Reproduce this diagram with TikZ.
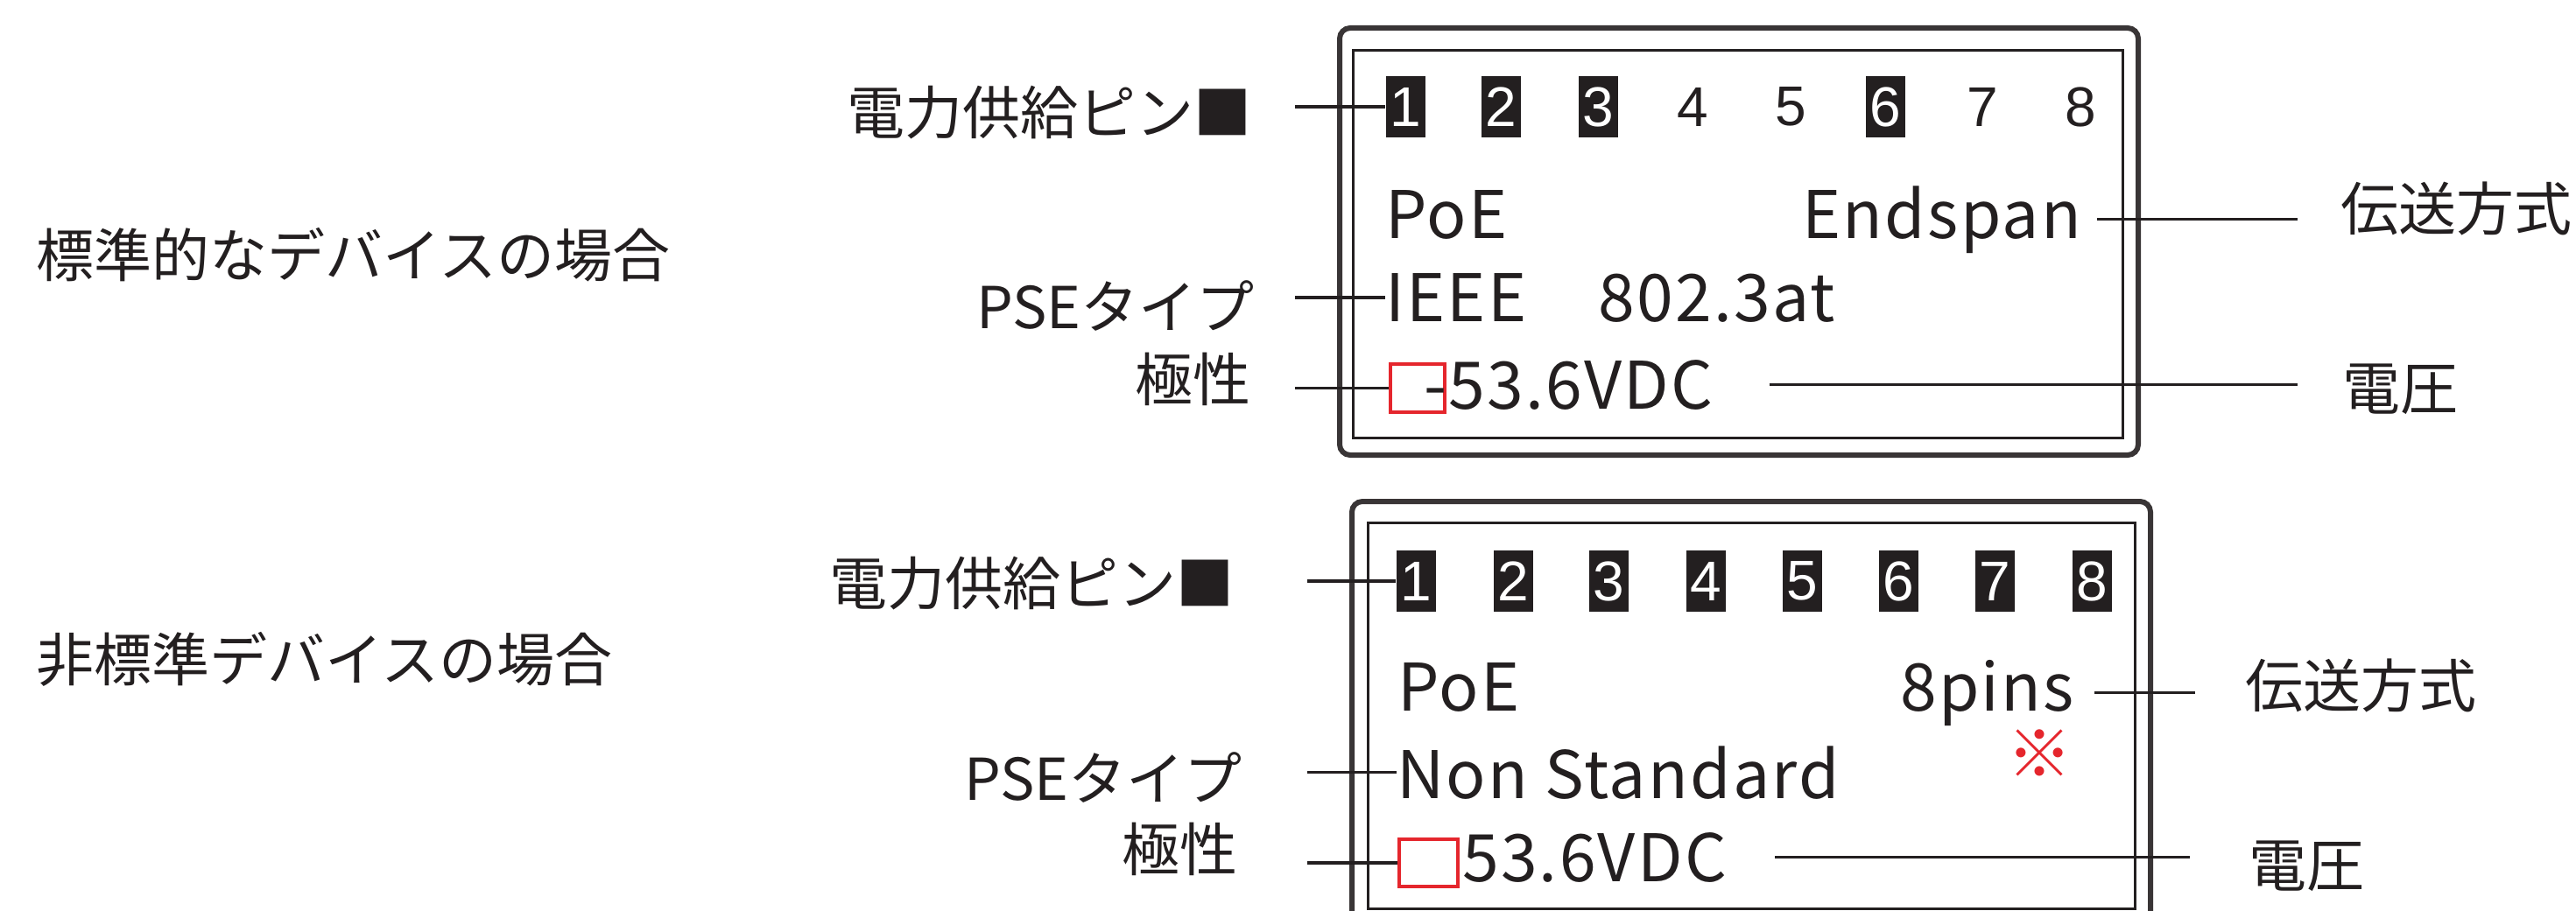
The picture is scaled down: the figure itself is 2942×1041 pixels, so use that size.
\documentclass[tikz,border=0pt]{standalone}
\usepackage{fontspec}
\newfontfamily\jp{Noto Sans CJK JP}
\newfontfamily\disp[LetterSpace=3]{Noto Sans CJK JP}
\newfontfamily\pinfont{Liberation Sans}
\definecolor{ink}{HTML}{231F20}
\definecolor{redbox}{HTML}{E5262D}
\begin{document}
\begin{tikzpicture}[x=1pt,y=-1pt,
  jplab/.style={inner sep=0pt, font=\jp\fontsize{66}{70}\selectfont, text=ink},
  disptext/.style={inner sep=0pt, font=\disp\fontsize{75}{80}\selectfont, text=ink},
  pinon/.style={fill=ink, text=white, minimum width=45pt, minimum height=70pt, inner sep=0pt, font=\pinfont\fontsize{64}{70}\selectfont},
  pinoff/.style={text=ink, minimum width=45pt, minimum height=70pt, inner sep=0pt, font=\pinfont\fontsize{64}{70}\selectfont},
  conn/.style={draw=ink, line width=3.5pt},
  outerbox/.style={draw=ink!90, line width=6pt, rounded corners=12pt},
  innerbox/.style={draw=ink, line width=3pt},
  polbox/.style={draw=redbox, line width=3.5pt, inner sep=0pt}
]
\useasboundingbox (0,0) rectangle (2942,1041);
\fill[white] (0,0) rectangle (2942,1041);
\clip (0,0) rectangle (2942,1041);

% ---------- left case labels
\node[jplab, anchor=west] (case1) at (41,291) {標準的なデバイスの場合};
\node[jplab, anchor=west] (case2) at (41,753) {非標準デバイスの場合};

% ---------- top panel
\draw[outerbox] (1530,32) rectangle (2442,520);
\draw[innerbox] (1545,58) rectangle (2424,500);

\node[pinon]  (tp1) at (1605,122) {1};
\node[pinon]  (tp2) at (1714,122) {2};
\node[pinon]  (tp3) at (1825,122) {3};
\node[pinoff] (tp4) at (1933,122) {4};
\node[pinoff] (tp5) at (2045,122) {5};
\node[pinon]  (tp6) at (2153,122) {6};
\node[pinoff] (tp7) at (2264,122) {7};
\node[pinoff] (tp8) at (2376,122) {8};

\node[disptext, anchor=base west] (tpoe)  at (1582,272) {PoE};
\node[disptext, anchor=base east] (tmode) at (2377,272) {Endspan};
\node[disptext, anchor=base west] (ttype) at (1582,367) {IEEE\hspace{82pt}802.3at};
\node[polbox, minimum width=62pt, minimum height=55pt] (tpol) at (1619,443.5) {};
\node[disptext, anchor=base west] (tvolt) at (1626,467) {-53.6VDC};

\node[jplab, anchor=east] (tlpin)  at (1430,129) {電力供給ピン■};
\node[jplab, anchor=east] (tltype) at (1433,350) {PSEタイプ};
\node[jplab, anchor=east] (tlpol)  at (1429,433) {極性};
\node[jplab, anchor=west] (trmode) at (2673,238) {伝送方式};
\node[jplab, anchor=west] (trvolt) at (2675,445) {電圧};

\draw[conn, shorten <=49pt] (tlpin.east |- tp1.west) -- (tp1.west);
\draw[conn, shorten <=46pt] (tltype.east |- ttype.west) -- (ttype.west);
\draw[conn, shorten <=50pt] (tlpol.east |- tpol.west) -- (tpol.west);
\draw[conn, shorten <=18pt, shorten >=49pt] (tmode.east) -- (tmode.east -| trmode.west);
\draw[conn, shorten <=64pt, shorten >=51pt] (tvolt.east) -- (tvolt.east -| trvolt.west);

% ---------- bottom panel
\draw[outerbox] (1544,573) rectangle (2456,1080);
\draw[innerbox] (1562,597) rectangle (2438,1038);

\node[pinon] (bp1) at (1617,664) {1};
\node[pinon] (bp2) at (1728,664) {2};
\node[pinon] (bp3) at (1837,664) {3};
\node[pinon] (bp4) at (1948,664) {4};
\node[pinon] (bp5) at (2058,664) {5};
\node[pinon] (bp6) at (2168,664) {6};
\node[pinon] (bp7) at (2278,664) {7};
\node[pinon] (bp8) at (2389,664) {8};

\node[disptext, anchor=base west] (bpoe)  at (1596,812) {PoE};
\node[disptext, anchor=base east] (bmode) at (2369,812) {8pins};
\node[inner sep=0pt, text=redbox, font=\jp\fontsize{74}{78}\selectfont] (bnote) at (2329,861) {※};
\node[disptext, anchor=base west] (btype) at (1595,912) {Non Standard};
\node[polbox, minimum width=67pt, minimum height=54pt] (bpol) at (1631.5,986) {};
\node[disptext, anchor=base west] (bvolt) at (1670,1007) {53.6VDC};

\node[jplab, anchor=east] (blpin)  at (1410,667) {電力供給ピン■};
\node[jplab, anchor=east] (bltype) at (1419,889) {PSEタイプ};
\node[jplab, anchor=east] (blpol)  at (1414,970) {極性};
\node[jplab, anchor=west] (brmode) at (2564,783) {伝送方式};
\node[jplab, anchor=west] (brvolt) at (2568,990) {電圧};

\draw[conn, shorten <=83pt] (blpin.east |- bp1.west) -- (bp1.west);
\draw[conn, shorten <=74pt] (bltype.east |- btype.west) -- (btype.west);
\draw[conn, shorten <=79pt] (blpol.east |- bpol.west) -- (bpol.west);
\draw[conn, shorten <=23pt, shorten >=57pt] (bmode.east) -- (bmode.east -| brmode.west);
\draw[conn, shorten <=55pt, shorten >=67pt] (bvolt.east) -- (bvolt.east -| brvolt.west);
\end{tikzpicture}
\end{document}
